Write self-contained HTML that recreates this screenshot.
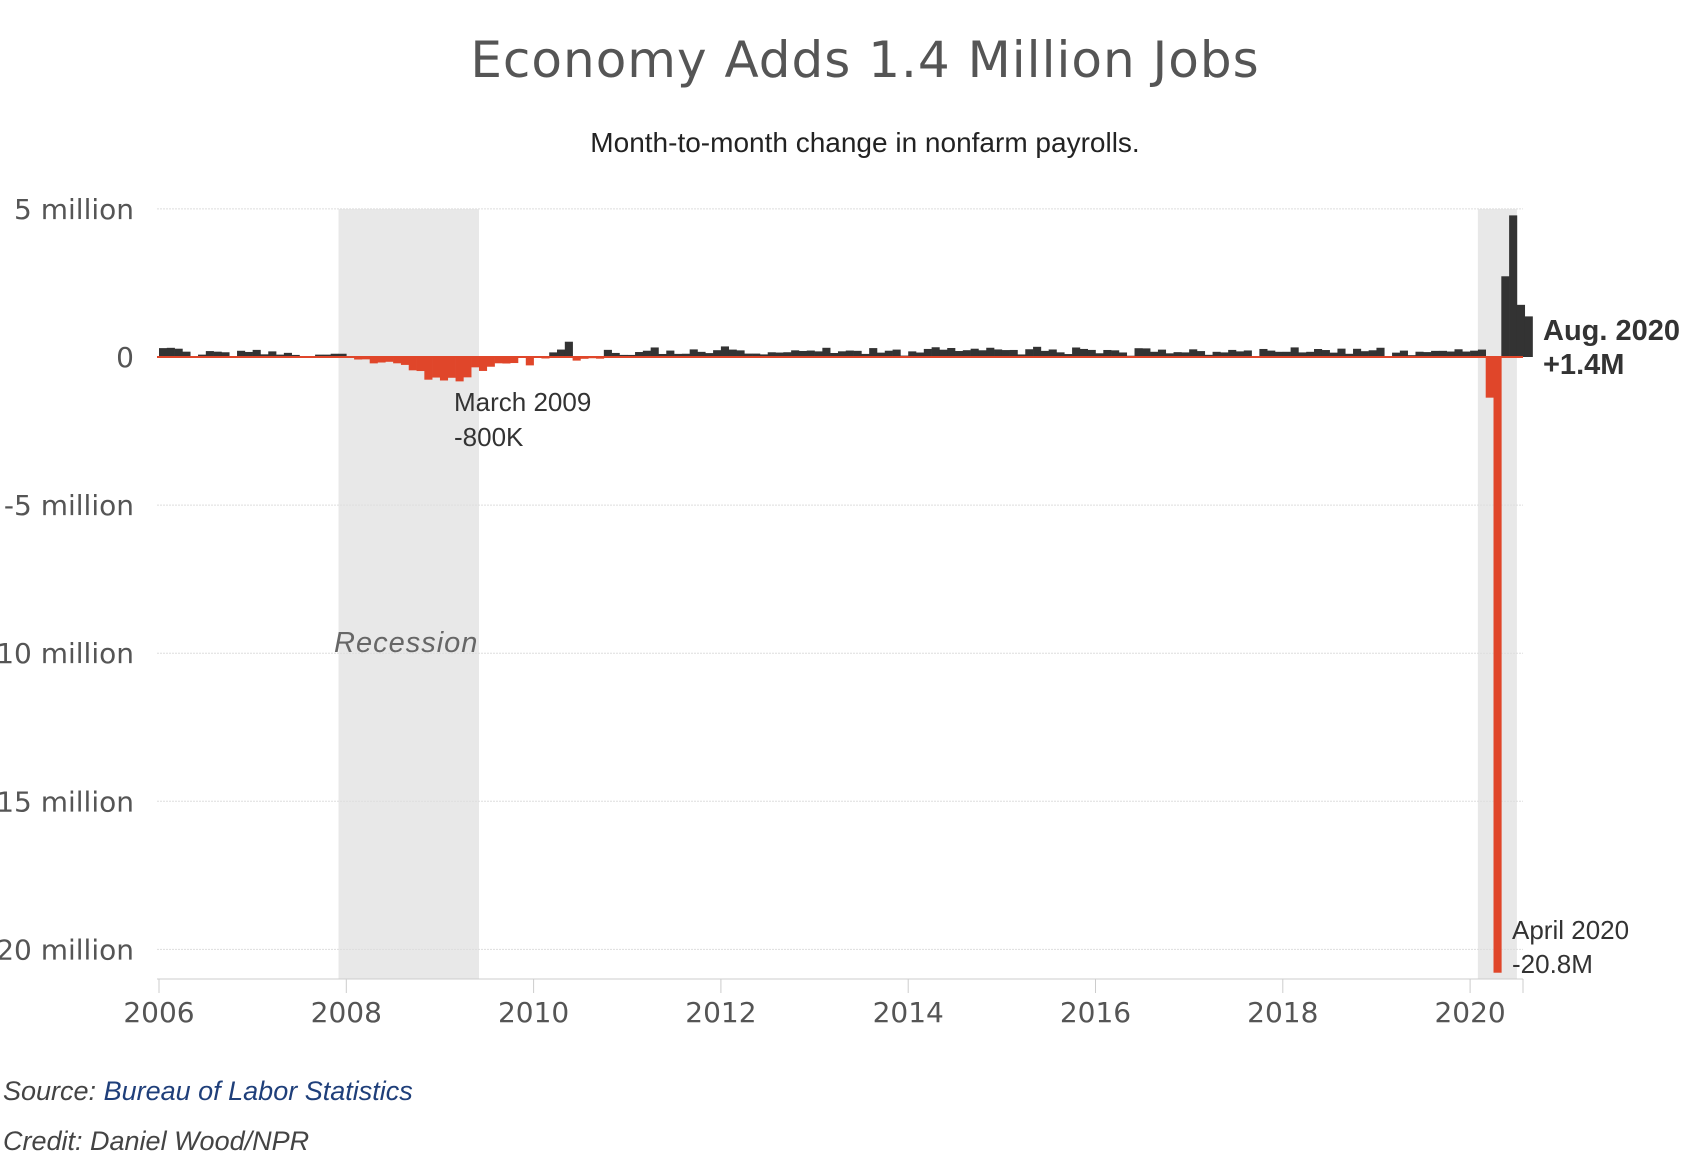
<!DOCTYPE html>
<html><head><meta charset="utf-8"><style>
body{margin:0;background:#fff;width:1691px;height:1153px;overflow:hidden;font-family:"Liberation Sans",sans-serif}
</style></head><body>
<svg width="1691" height="1153" id="chart" xmlns="http://www.w3.org/2000/svg">
<text x="865" y="77" text-anchor="middle" font-size="50" fill="#555" font-family="DejaVu Sans, sans-serif" letter-spacing="1">Economy Adds 1.4 Million Jobs</text>
<text x="865" y="152" text-anchor="middle" font-size="28" fill="#222">Month-to-month change in nonfarm payrolls.</text>
<g id="shade"></g><g id="grid"></g><g id="bars"></g><g id="axes"></g>
<text x="334" y="652" font-size="29" font-style="italic" fill="#666" letter-spacing="1">Recession</text>
<text font-size="26" fill="#333"><tspan x="454" y="411">March 2009</tspan><tspan x="454" y="446">-800K</tspan></text>
<text font-size="29" font-weight="bold" fill="#333"><tspan x="1543" y="340">Aug. 2020</tspan><tspan x="1543" y="374">+1.4M</tspan></text>
<text font-size="26" fill="#333"><tspan x="1512" y="939">April 2020</tspan><tspan x="1512" y="973">-20.8M</tspan></text>
<text x="3" y="1100" font-size="27" font-style="italic" fill="#444">Source: <tspan fill="#1f3f7a">Bureau of Labor Statistics</tspan></text>
<text x="3" y="1150" font-size="27" font-style="italic" fill="#444">Credit: Daniel Wood/NPR</text>
</svg>
<script>
const startYear = 2006;
const values = [
300,310,280,180,30,80,200,180,160,10,210,170,
240,90,190,80,140,70,-30,-20,80,80,110,110,
17,-85,-79,-215,-186,-162,-213,-267,-450,-474,-766,-694,
-793,-702,-823,-687,-349,-471,-329,-213,-220,-204,-2,-283,
18,-50,156,251,516,-122,-61,-42,-57,241,137,71,
70,168,212,322,102,217,105,110,257,174,132,230,
357,250,224,115,115,88,160,150,161,225,203,218,
190,311,135,192,218,208,104,301,147,212,250,47,
190,151,272,329,246,304,202,230,280,227,312,255,
234,238,86,262,344,206,254,157,100,321,272,239,
126,237,225,153,43,297,291,176,249,124,164,155,
259,200,73,175,155,239,190,221,18,271,216,175,
176,324,155,175,270,235,147,282,108,277,196,227,
312,1,147,216,62,178,166,207,208,185,261,184,
214,251,-1373,-20787,2725,4781,1761,1371];
const yTicks = [5000,0,-5000,-10000,-15000,-20000];
const yTickLabels = ["5 million","0","-5 million","10 million","15 million","20 million"];
const xTicks = [2006,2008,2010,2012,2014,2016,2018,2020];
const shadeRanges = [[2007.917,2009.417],[2020.083,2020.5]];
(function(){
const NS="http://www.w3.org/2000/svg";
const sx = yr => 159 + (yr-2006)*93.65;
const sy = v => 357 - v*0.02962;
const plotLeft=157,plotRight=1523,plotBottom=979,plotTop=209;
function mk(tag,attrs,parent){const e=document.createElementNS(NS,tag);for(const k in attrs)e.setAttribute(k,attrs[k]);document.getElementById(parent).appendChild(e);return e;}
shadeRanges.forEach(r=>{const e=mk('rect',{x:sx(r[0]),y:plotTop,width:sx(r[1])-sx(r[0]),height:plotBottom-plotTop,fill:'#e8e8e8'},'shade');

});
yTicks.forEach((t,i)=>{const g=mk('line',{x1:plotLeft,x2:plotRight,y1:sy(t),y2:sy(t),stroke:'#ddd','stroke-dasharray':'2,1'},'grid');


const l=mk('text',{x:134,y:sy(t)+10,'text-anchor':'end','font-size':28,fill:'#555','font-family':'DejaVu Sans, sans-serif'},'axes');l.textContent=yTickLabels[i];

});
const mw=93.65/12;
values.forEach((v,i)=>{const yr=startYear+i/12;const y0=sy(Math.max(v,0)),y1=sy(Math.min(v,0));
const b=mk('rect',{x:sx(yr),y:y0,width:mw+0.3,height:Math.max(y1-y0,0.5),fill:v>=0?'#333':'#e0462a'},'bars');

});
const z=mk('line',{x1:plotLeft,x2:plotRight,y1:sy(0),y2:sy(0),stroke:'#e0462a','stroke-width':2},'axes');


const ax=mk('line',{x1:plotLeft,x2:plotRight,y1:plotBottom,y2:plotBottom,stroke:'#ccc','stroke-width':1},'axes');


xTicks.forEach(t=>{const tk=mk('line',{x1:sx(t),x2:sx(t),y1:plotBottom,y2:plotBottom+14,stroke:'#ccc'},'axes');


const l=mk('text',{x:sx(t),y:plotBottom+43,'text-anchor':'middle','font-size':28,fill:'#555','font-family':'DejaVu Sans, sans-serif'},'axes');l.textContent=t;

});
const et=mk('line',{x1:plotRight,x2:plotRight,y1:plotBottom,y2:plotBottom+14,stroke:'#ccc'},'axes');


})();
</script>
</body></html>
